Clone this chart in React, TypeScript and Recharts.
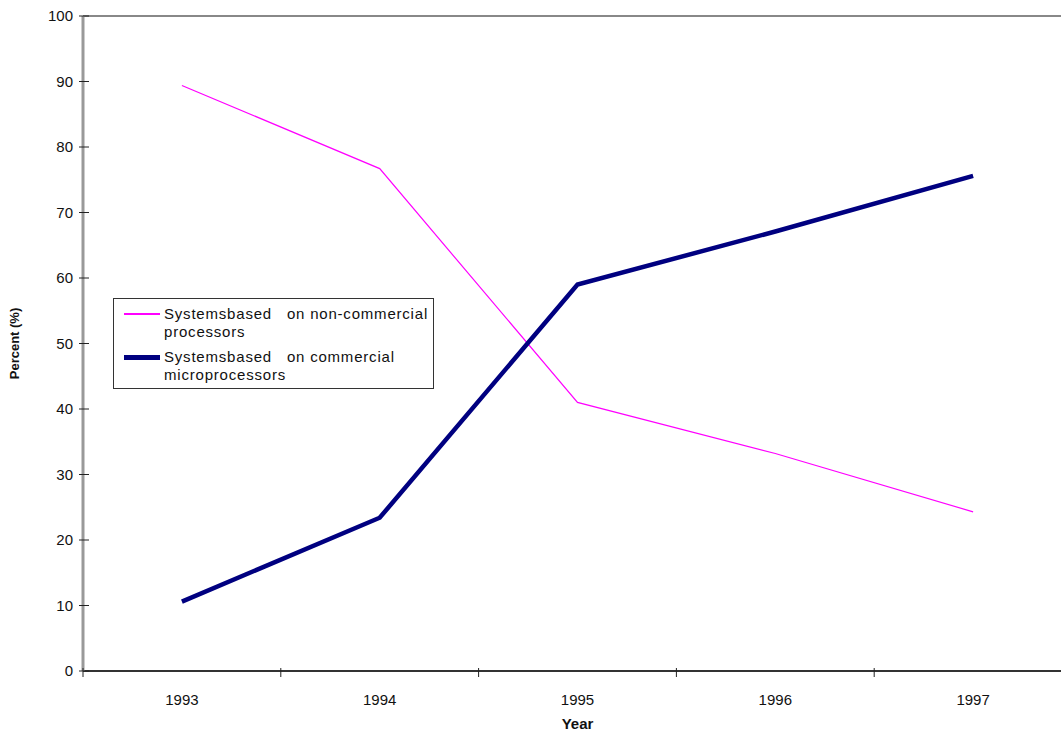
import React from "react";
import { LineChart, Line, XAxis, YAxis, Legend, ReferenceLine } from "recharts";

const years = ["1993", "1994", "1995", "1996", "1997"];
const nonCommercial = [89.4, 76.7, 41.0, 33.2, 24.3];
const commercial = [10.6, 23.4, 59.0, 67.1, 75.6];
const yTicks = [0, 10, 20, 30, 40, 50, 60, 70, 80, 90, 100];

const NON_COMMERCIAL_LABEL = "Systemsbased\u00a0\u00a0\u00a0on non-commercial processors";
const COMMERCIAL_LABEL = "Systemsbased\u00a0\u00a0\u00a0on commercial microprocessors";

const data = years.map((year, i) => ({
  year,
  nonCommercial: nonCommercial[i],
  commercial: commercial[i],
}));

// the plot runs a little past the right edge of the visible frame
const CHART_W = 1072;
const CHART_H = 731;
const Y_AXIS_W = 83;
const HALF_BAND = (CHART_W - Y_AXIS_W) / years.length / 2;
const FONT = "Liberation Sans, Arial, sans-serif";

function YTick(props: any) {
  const { x, y, payload } = props;
  return (
    <g>
      <line x1={x - 4} x2={x + 6} y1={y} y2={y} stroke="#222" strokeWidth={1} />
      <text x={x - 10} y={y} dy={5} textAnchor="end" fontSize={15} fill="#111" fontFamily={FONT}>
        {payload.value}
      </text>
    </g>
  );
}

function XTick(props: any) {
  const { x, y, payload, index } = props;
  return (
    <g>
      <line x1={x - HALF_BAND} x2={x - HALF_BAND} y1={y - 3} y2={y + 6} stroke="#222" strokeWidth={1} />
      {index === years.length - 1 && (
        <line x1={x + HALF_BAND} x2={x + HALF_BAND} y1={y - 3} y2={y + 6} stroke="#222" strokeWidth={1} />
      )}
      <text x={x} y={y + 34} textAnchor="middle" fontSize={15} fill="#111" fontFamily={FONT}>
        {payload.value}
      </text>
    </g>
  );
}

function YLabel(props: any) {
  const { viewBox } = props;
  const cx = 14;
  const cy = viewBox.y + viewBox.height / 2;
  return (
    <text
      x={cx}
      y={cy}
      transform={`rotate(-90 ${cx} ${cy})`}
      textAnchor="middle"
      dominantBaseline="central"
      fontSize={13}
      fontWeight="bold"
      fill="#111"
      fontFamily={FONT}
    >
      Percent (%)
    </text>
  );
}

function LegendBox() {
  const rows = [
    { color: "#FF00FF", width: 1.5, text: NON_COMMERCIAL_LABEL },
    { color: "#000080", width: 5, text: COMMERCIAL_LABEL },
  ];
  return (
    <div
      style={{
        border: "1px solid #333",
        background: "#fff",
        padding: "6px 4px 4px 10px",
        fontFamily: FONT,
        fontSize: 15,
        letterSpacing: 0.8,
        color: "#111",
        lineHeight: "18px",
        boxSizing: "border-box",
        width: 321,
        textAlign: "left",
      }}
    >
      {rows.map((r, i) => (
        <div key={r.text} style={{ display: "flex", alignItems: "flex-start", marginBottom: i === 0 ? 7 : 0 }}>
          <div style={{ width: 36, marginRight: 4, marginTop: 9 - r.width / 2, flexShrink: 0 }}>
            <div style={{ height: r.width, background: r.color }} />
          </div>
          <div>{r.text}</div>
        </div>
      ))}
    </div>
  );
}

export default function App() {
  return (
    <div
      style={{
        position: "absolute",
        left: 0,
        top: 0,
        width: 1061,
        height: 731,
        overflow: "hidden",
        background: "#fff",
      }}
    >
      <LineChart width={CHART_W} height={CHART_H} data={data} margin={{ top: 16, right: 0, left: 0, bottom: 0 }}>
        <XAxis
          dataKey="year"
          scale="band"
          height={60}
          axisLine={{ stroke: "#333", strokeWidth: 2 }}
          tickLine={false}
          tickSize={0}
          tickMargin={0}
          tick={<XTick />}
          interval={0}
          label={{
            value: "Year",
            position: "insideBottom",
            offset: 2,
            fontSize: 15,
            fontWeight: "bold",
            fill: "#111",
            fontFamily: FONT,
          }}
        />
        <YAxis
          width={Y_AXIS_W}
          domain={[0, 100]}
          ticks={yTicks}
          interval={0}
          axisLine={{ stroke: "#999", strokeWidth: 3 }}
          tickLine={false}
          tickSize={0}
          tickMargin={0}
          tick={<YTick />}
          label={<YLabel />}
        />
        <ReferenceLine y={100} stroke="#888" strokeWidth={2} />
        <Legend
          layout="vertical"
          verticalAlign="middle"
          align="center"
          content={<LegendBox />}
          wrapperStyle={{ left: 113, top: 298, width: 321 }}
        />
        <Line
          type="linear"
          dataKey="nonCommercial"
          name={NON_COMMERCIAL_LABEL}
          stroke="#FF00FF"
          strokeWidth={1.2}
          dot={false}
          isAnimationActive={false}
        />
        <Line
          type="linear"
          dataKey="commercial"
          name={COMMERCIAL_LABEL}
          stroke="#000080"
          strokeWidth={4.5}
          dot={false}
          isAnimationActive={false}
        />
      </LineChart>
    </div>
  );
}
